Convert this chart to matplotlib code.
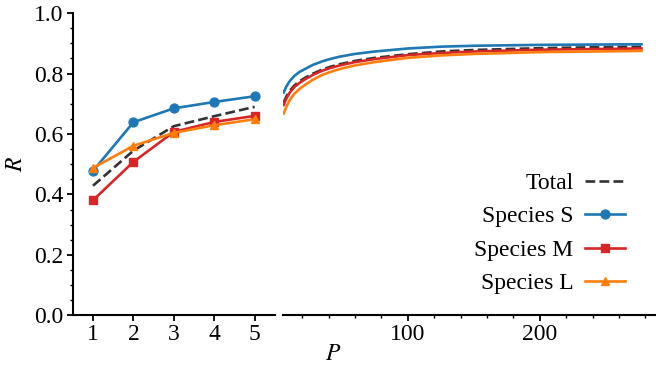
import numpy as np
import matplotlib
matplotlib.use("Agg")
import matplotlib.pyplot as plt
from matplotlib.ticker import MultipleLocator

plt.rcParams["font.family"] = ["Liberation Serif", "DejaVu Serif"]
plt.rcParams["mathtext.fontset"] = "stix"
plt.rcParams["font.size"] = 17

# discrete part (P = 1..5)
p_disc = [1, 2, 3, 4, 5]
total_disc = [0.429, 0.545, 0.626, 0.659, 0.690]
s_disc = [0.478, 0.639, 0.685, 0.706, 0.725]
m_disc = [0.381, 0.508, 0.607, 0.640, 0.660]
l_disc = [0.488, 0.561, 0.604, 0.629, 0.649]

# continuous part (large P)
p_cont = [6, 8, 10.6, 14, 18.2, 23, 28.3, 35, 41, 48.5, 60, 75, 100, 125, 150, 200, 240, 277]
s_cont = [0.737, 0.757, 0.775, 0.792, 0.806, 0.817, 0.829, 0.840, 0.848, 0.856,
          0.865, 0.873, 0.883, 0.889, 0.892, 0.895, 0.896, 0.897]
m_cont = [0.696, 0.717, 0.737, 0.755, 0.770, 0.783, 0.796, 0.809, 0.818, 0.827,
          0.838, 0.848, 0.861, 0.868, 0.873, 0.879, 0.881, 0.883]
l_cont = [0.668, 0.690, 0.712, 0.733, 0.750, 0.765, 0.780, 0.795, 0.805, 0.815,
          0.827, 0.838, 0.852, 0.860, 0.865, 0.871, 0.873, 0.875]
total_cont = [0.704, 0.724, 0.743, 0.760, 0.775, 0.788, 0.800, 0.813, 0.822, 0.831,
              0.842, 0.852, 0.864, 0.873, 0.878, 0.884, 0.887, 0.889]

c_total = "#333333"
c_s = "#1f77b4"
c_m = "#d62728"
c_l = "#ff7f0e"

fig = plt.figure(figsize=(6.56, 3.75), dpi=100)
ax1 = fig.add_axes([0.111, 0.159, 0.308, 0.806])
ax2 = fig.add_axes([0.431, 0.159, 0.569, 0.806], sharey=ax1)

lw = 1.9
ms = 6.4
ax1.plot(p_disc, total_disc, "--", color=c_total, lw=lw)
ax1.plot(p_disc, s_disc, "-o", color=c_s, lw=lw, ms=ms)
ax1.plot(p_disc, m_disc, "-s", color=c_m, lw=lw, ms=ms)
ax1.plot(p_disc, l_disc, "-^", color=c_l, lw=lw, ms=ms)

ax2.plot(p_cont, total_cont, "--", color=c_total, lw=lw)
ax2.plot(p_cont, s_cont, "-", color=c_s, lw=lw)
ax2.plot(p_cont, m_cont, "-", color=c_m, lw=lw)
ax2.plot(p_cont, l_cont, "-", color=c_l, lw=lw)

ax1.set_xlim(0.5, 5.5)
ax1.set_ylim(0, 1.0)
ax1.set_xticks(p_disc)
ax1.yaxis.set_major_locator(MultipleLocator(0.2))
ax1.yaxis.set_minor_locator(MultipleLocator(0.05))
ax1.set_ylabel("$R$", labelpad=5)

ax2.set_xlim(5.3, 288)
ax2.xaxis.set_major_locator(MultipleLocator(100))
ax2.xaxis.set_minor_locator(MultipleLocator(20))

for ax in (ax1, ax2):
    ax.spines["top"].set_visible(False)
    ax.spines["right"].set_visible(False)
    ax.spines["left"].set_linewidth(1.5)
    ax.spines["bottom"].set_linewidth(1.5)
    ax.tick_params(which="major", length=4, width=1.3, pad=2.5)
    ax.tick_params(which="minor", length=2.5, width=1.0)

ax2.spines["left"].set_visible(False)
ax2.tick_params(axis="y", which="both", left=False, labelleft=False)

fig.text(0.508, 0.055, "$P$", ha="center", va="center", fontsize=17)

handles = [
    plt.Line2D([], [], ls="--", color=c_total, lw=lw),
    plt.Line2D([], [], ls="-", marker="o", color=c_s, lw=lw, ms=ms),
    plt.Line2D([], [], ls="-", marker="s", color=c_m, lw=lw, ms=ms),
    plt.Line2D([], [], ls="-", marker="^", color=c_l, lw=lw, ms=ms),
]
labels = ["Total", "Species S", "Species M", "Species L"]
ax2.legend(handles, labels, loc="lower right", frameon=False, markerfirst=False,
           handlelength=1.7, handletextpad=0.5, labelspacing=0.5,
           bbox_to_anchor=(0.975, 0.0))

fig.savefig("out.png", dpi=100)
